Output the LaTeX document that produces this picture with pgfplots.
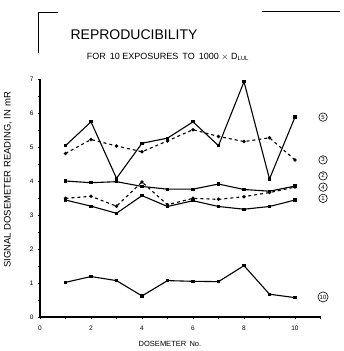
\documentclass[border=0pt]{standalone}
\usepackage{pgfplots}
\pgfplotsset{compat=1.18}
\usepackage{fontspec}
\setmainfont{Liberation Sans}
\begin{document}
\begin{tikzpicture}
\useasboundingbox (-40pt,-34pt) rectangle (303pt,317pt);
\begin{axis}[
  at={(0pt,0pt)}, anchor=origin,
  scale only axis, width=280.5pt, height=238pt,
  xmin=0, xmax=11, ymin=0, ymax=7,
  axis lines*=left,
  axis line style={line width=1.1pt},
  xtick={0,2,4,6,8,10}, minor xtick={1,3,5,7,9,11},
  ytick={0,1,2,3,4,5,6,7}, minor ytick={0.5,1.5,2.5,3.5,4.5,5.5,6.5},
  tick align=outside,
  major tick length=2pt, minor tick length=1.5pt,
  tick style={black, line width=0.7pt},
  tick label style={font=\fontsize{6.5}{7}\selectfont},
  xticklabel style={yshift=-3pt},
  yticklabel style={xshift=-1pt},
  /pgf/number format/assume math mode=true,
  clip=false,
  every axis plot/.append style={black, line width=1.1pt},
]
% series 5
\addplot[mark=square*, mark size=1.1pt] coordinates {(1,5.04) (2,5.74) (3,4.08) (4,5.11) (5,5.26) (6,5.74) (7,5.04) (8,6.92) (9,4.06) (10,5.88)};
% series 3
\addplot[dashed, mark=o, mark size=1.1pt, mark options={solid}] coordinates {(1,4.81) (2,5.22) (3,5.03) (4,4.86) (5,5.18) (6,5.51) (7,5.31) (8,5.16) (9,5.27) (10,4.62)};
% series 2
\addplot[mark=square*, mark size=1.1pt] coordinates {(1,4.0) (2,3.95) (3,3.98) (4,3.84) (5,3.76) (6,3.76) (7,3.91) (8,3.75) (9,3.70) (10,3.85)};
% series 4
\addplot[dashed, mark=o, mark size=1.1pt, mark options={solid}] coordinates {(1,3.49) (2,3.55) (3,3.26) (4,3.97) (5,3.30) (6,3.49) (7,3.46) (8,3.54) (9,3.66) (10,3.82)};
% series 1
\addplot[mark=square*, mark size=1.1pt] coordinates {(1,3.44) (2,3.26) (3,3.05) (4,3.57) (5,3.25) (6,3.42) (7,3.25) (8,3.17) (9,3.25) (10,3.44)};
% series 10
\addplot[mark=square*, mark size=1.1pt] coordinates {(1,1.02) (2,1.19) (3,1.07) (4,0.62) (5,1.07) (6,1.05) (7,1.04) (8,1.51) (9,0.67) (10,0.57)};
\begin{scope}[every node/.style={circle, draw, line width=0.6pt, inner sep=0.8pt, minimum size=8.5pt, font=\fontsize{6}{6}\selectfont}]
\node at (axis cs:11.1,5.88) {5};
\node at (axis cs:11.1,4.62) {3};
\node at (axis cs:11.1,4.15) {2};
\node at (axis cs:11.1,3.82) {4};
\node at (axis cs:11.1,3.49) {1};
\node at (axis cs:11.1,0.59) {10};
\end{scope}
\end{axis}
\draw[line width=1pt] (-2pt,264pt) -- (-2pt,304pt) -- (18pt,304pt);
\draw[line width=1pt] (222pt,305pt) -- (300pt,305pt);
\node[font=\fontsize{14}{15}\selectfont] at (94pt,282pt) {REPRODUCIBILITY};
\node[font=\fontsize{9}{10}\selectfont] at (128pt,260pt) {FOR\, 10 EXPOSURES\, TO\, 1000 $\times$ D$_{\mathrm{LUL}}$};
\node[font=\fontsize{7.5}{8}\selectfont] at (130pt,-27pt) {DOSEMETER\, No.};
\node[font=\fontsize{9.5}{10}\selectfont, rotate=90] at (-32pt,137pt) {SIGNAL DOSEMETER READING, IN mR};
\end{tikzpicture}
\end{document}
